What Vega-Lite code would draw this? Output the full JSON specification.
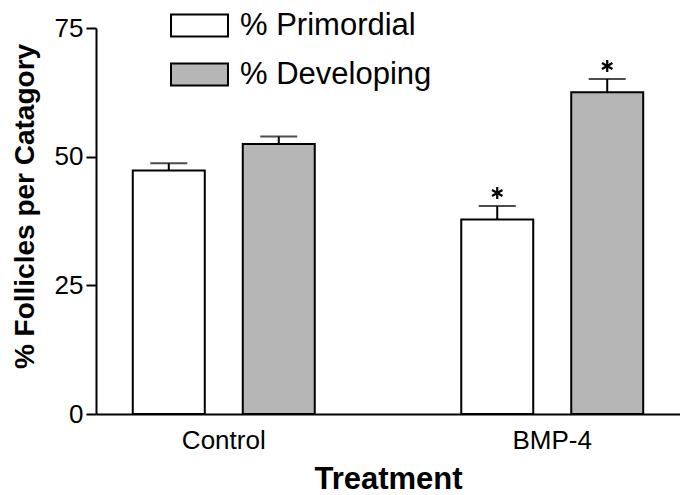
{
  "$schema": "https://vega.github.io/schema/vega-lite/v6.json",
  "autosize": {"type": "none"},
  "padding": {"left": 96, "top": 28, "right": 0, "bottom": 81},
  "width": 584,
  "height": 386,
  "background": "white",
  "config": {
    "font": "Liberation Sans",
    "view": {"stroke": null},
    "axis": {"labelColor": "black", "titleColor": "black", "domainColor": "black", "tickColor": "black", "grid": false}
  },
  "data": {
    "values": [
      {"treatment": "Control", "series": "% Primordial", "value": 47.3, "top": 48.7, "sig": 0},
      {"treatment": "Control", "series": "% Developing", "value": 52.45, "top": 53.9, "sig": 0},
      {"treatment": "BMP-4", "series": "% Primordial", "value": 37.8, "top": 40.4, "sig": 1},
      {"treatment": "BMP-4", "series": "% Developing", "value": 62.5, "top": 65.1, "sig": 1}
    ]
  },
  "encoding": {
    "x": {
      "field": "treatment", "type": "nominal", "sort": ["Control", "BMP-4"],
      "scale": {"paddingInner": 0.446, "paddingOuter": 0.112},
      "axis": {
        "title": "Treatment", "labelAngle": 0, "labelFontSize": 26, "labelPadding": 13,
        "ticks": false, "domainWidth": 2,
        "titleFontSize": 31, "titleFontWeight": "bold", "titleBaseline": "alphabetic", "titleY": 74
      }
    },
    "xOffset": {
      "field": "series", "type": "nominal", "sort": ["% Primordial", "% Developing"],
      "scale": {"paddingInner": 0.3455, "paddingOuter": 0}
    }
  },
  "layer": [
    {
      "mark": {"type": "bar", "stroke": "black", "strokeWidth": 2, "opacity": 1},
      "encoding": {
        "y": {
          "field": "value", "type": "quantitative",
          "scale": {"domain": [0, 75], "nice": false},
          "axis": {
            "values": [0, 25, 50, 75], "title": "% Follicles per Catagory",
            "labelFontSize": 26, "labelPadding": 3, "tickSize": 10, "tickWidth": 2, "domainWidth": 2,
            "titleFontSize": 28, "titleFontWeight": "bold", "titleAngle": -90,
            "titleBaseline": "alphabetic", "titleAlign": "center", "titleX": -63, "titleY": 178
          }
        },
        "fill": {
          "field": "series", "type": "nominal", "sort": ["% Primordial", "% Developing"],
          "scale": {"range": ["white", "#b6b6b6"]},
          "legend": {
            "title": null, "orient": "none", "legendX": 88, "legendY": -18,
            "symbolType": "M-2.59,-1L2.59,-1L2.59,1L-2.59,1Z", "symbolSize": 484,
            "symbolStrokeColor": "black", "symbolStrokeWidth": 2, "symbolOpacity": 1,
            "labelFontSize": 31, "labelColor": "black", "labelOffset": 25, "rowPadding": 17,
            "labelLimit": 0
          }
        }
      }
    },
    {
      "mark": {"type": "rule", "color": "black", "strokeWidth": 2},
      "encoding": {
        "y": {"field": "value", "type": "quantitative"},
        "y2": {"field": "top"}
      }
    },
    {
      "mark": {"type": "tick", "color": "black", "thickness": 2, "size": 37, "orient": "horizontal"},
      "encoding": {
        "y": {"field": "top", "type": "quantitative"}
      }
    },
    {
      "transform": [{"filter": "datum.sig == 1"}],
      "mark": {
        "type": "point", "shape": "M0,-1L0,1M-0.87,-0.5L0.87,0.5M-0.87,0.5L0.87,-0.5",
        "filled": false, "stroke": "black", "strokeWidth": 2.2, "size": 144, "opacity": 1, "yOffset": -13
      },
      "encoding": {
        "y": {"field": "top", "type": "quantitative"}
      }
    }
  ]
}
